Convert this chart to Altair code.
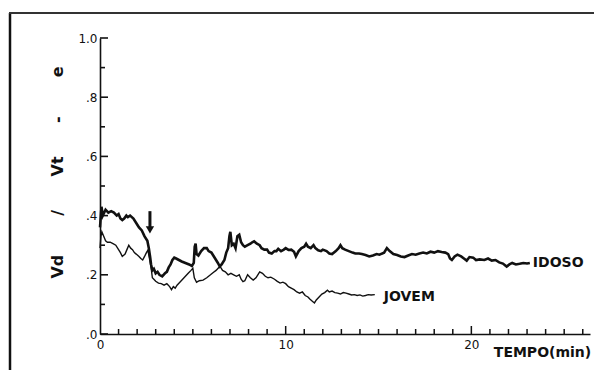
import altair as alt
import pandas as pd

# ---------------- data ----------------
idoso_t = [0.0, 0.08, 0.15, 0.3, 0.45, 0.6, 0.75, 0.9, 1.0, 1.1, 1.2, 1.3, 1.42, 1.5, 1.62, 1.8, 1.95,
           2.1, 2.25, 2.4, 2.55, 2.63, 2.7, 2.75, 2.82, 2.9, 3.0, 3.1, 3.2, 3.35, 3.5, 3.6, 3.7, 3.8,
           3.9, 4.0, 4.1, 4.25, 4.4, 4.6, 4.8, 4.95, 5.05, 5.1, 5.15, 5.2, 5.3, 5.45, 5.6, 5.75, 5.85,
           6.0, 6.1, 6.25, 6.35, 6.45, 6.55, 6.7, 6.8, 6.9, 6.97, 7.02, 7.1, 7.2, 7.3, 7.4, 7.5, 7.6,
           7.7, 7.8, 7.95, 8.1, 8.2, 8.3, 8.45, 8.6, 8.7, 8.85, 9.0, 9.1, 9.25, 9.4, 9.5, 9.6, 9.75,
           9.9, 10.0, 10.15, 10.3, 10.45, 10.55, 10.7, 10.85, 11.0, 11.1, 11.2, 11.35, 11.5, 11.6,
           11.75, 11.9, 12.0, 12.2, 12.35, 12.5, 12.7, 12.85, 12.95, 13.05, 13.2, 13.4, 13.6, 13.75,
           13.95, 14.1, 14.3, 14.5, 14.7, 14.9, 15.05, 15.3, 15.45, 15.6, 15.8, 16.0, 16.2, 16.4,
           16.6, 16.8, 17.0, 17.2, 17.4, 17.6, 17.8, 18.0, 18.2, 18.4, 18.6, 18.75, 18.85, 18.95,
           19.1, 19.25, 19.45, 19.6, 19.75, 19.9, 20.1, 20.25, 20.45, 20.7, 20.9, 21.1, 21.3, 21.5,
           21.7, 21.9, 22.05, 22.2, 22.4, 22.6, 22.8, 23.0, 23.15]
idoso_v = [0.36, 0.43, 0.40, 0.42, 0.41, 0.415, 0.41, 0.40, 0.405, 0.39, 0.385, 0.39, 0.40, 0.395,
           0.40, 0.39, 0.375, 0.36, 0.35, 0.33, 0.315, 0.29, 0.26, 0.235, 0.215, 0.22, 0.205, 0.21,
           0.20, 0.195, 0.205, 0.21, 0.225, 0.235, 0.25, 0.258, 0.255, 0.25, 0.245, 0.24, 0.235,
           0.23, 0.24, 0.295, 0.305, 0.27, 0.265, 0.28, 0.29, 0.29, 0.28, 0.275, 0.265, 0.25, 0.24,
           0.228, 0.235, 0.25, 0.275, 0.29, 0.33, 0.345, 0.30, 0.305, 0.29, 0.33, 0.335, 0.31, 0.30,
           0.295, 0.30, 0.305, 0.31, 0.313, 0.305, 0.30, 0.29, 0.285, 0.285, 0.275, 0.272, 0.28,
           0.28, 0.288, 0.28, 0.285, 0.29, 0.284, 0.285, 0.278, 0.262, 0.28, 0.29, 0.295, 0.305,
           0.295, 0.29, 0.30, 0.29, 0.283, 0.28, 0.285, 0.28, 0.272, 0.27, 0.28, 0.29, 0.30, 0.29,
           0.285, 0.28, 0.275, 0.272, 0.272, 0.27, 0.267, 0.262, 0.265, 0.27, 0.268, 0.275, 0.29,
           0.28, 0.27, 0.267, 0.262, 0.26, 0.265, 0.27, 0.268, 0.272, 0.275, 0.272, 0.278, 0.275,
           0.28, 0.277, 0.275, 0.27, 0.255, 0.25, 0.262, 0.268, 0.262, 0.255, 0.248, 0.26, 0.258,
           0.25, 0.252, 0.25, 0.255, 0.248, 0.25, 0.242, 0.238, 0.228, 0.235, 0.24, 0.235, 0.237,
           0.24, 0.238, 0.24]

jovem_t = [0.0, 0.05, 0.1, 0.2, 0.3, 0.4, 0.55, 0.7, 0.85, 1.0, 1.1, 1.2, 1.35, 1.45, 1.55, 1.65,
           1.75, 1.85, 1.95, 2.1, 2.2, 2.3, 2.4, 2.5, 2.58, 2.65, 2.75, 2.82, 2.9, 3.0, 3.15, 3.3,
           3.45, 3.6, 3.75, 3.85, 3.95, 4.05, 4.15, 4.3, 4.45, 4.6, 4.75, 4.9, 5.0, 5.08, 5.2, 5.35,
           5.55, 5.75, 5.95, 6.1, 6.25, 6.4, 6.5, 6.6, 6.75, 6.9, 7.05, 7.2, 7.35, 7.5, 7.6, 7.7,
           7.8, 7.95, 8.1, 8.25, 8.4, 8.5, 8.6, 8.75, 8.9, 9.05, 9.2, 9.4, 9.55, 9.7, 9.85, 10.0,
           10.15, 10.3, 10.45, 10.6, 10.75, 10.9, 11.05, 11.2, 11.3, 11.45, 11.55, 11.65, 11.8,
           11.95, 12.1, 12.25, 12.35, 12.5, 12.65, 12.8, 12.95, 13.1, 13.25, 13.4, 13.55, 13.7,
           13.85, 14.0, 14.15, 14.3, 14.45, 14.6, 14.8]
jovem_v = [0.29, 0.33, 0.345, 0.33, 0.315, 0.31, 0.31, 0.305, 0.30, 0.285, 0.275, 0.262, 0.27,
           0.285, 0.30, 0.29, 0.285, 0.275, 0.27, 0.262, 0.255, 0.25, 0.262, 0.275, 0.283, 0.26,
           0.225, 0.19, 0.185, 0.178, 0.172, 0.17, 0.165, 0.17, 0.16, 0.15, 0.16, 0.155, 0.165,
           0.175, 0.185, 0.195, 0.205, 0.215, 0.222, 0.19, 0.175, 0.18, 0.182, 0.19, 0.20, 0.208,
           0.215, 0.225, 0.225, 0.215, 0.21, 0.20, 0.205, 0.20, 0.195, 0.20, 0.185, 0.177, 0.18,
           0.20, 0.19, 0.182, 0.19, 0.20, 0.21, 0.205, 0.195, 0.19, 0.192, 0.185, 0.178, 0.172,
           0.175, 0.17, 0.16, 0.155, 0.15, 0.142, 0.138, 0.142, 0.13, 0.125, 0.118, 0.11, 0.105,
           0.115, 0.125, 0.135, 0.14, 0.148, 0.142, 0.145, 0.14, 0.138, 0.135, 0.14, 0.138, 0.135,
           0.132, 0.133, 0.13, 0.132, 0.128, 0.13, 0.133, 0.132, 0.133]

series_names = ["IDOSO", "JOVEM"]
x_label_values = [0, 10, 20]
x_minor_ticks = [1, 2, 3, 4, 5, 6, 7, 8, 9, 11, 12, 13, 14, 15, 16, 17, 18, 19, 21, 22, 23, 24, 25, 26]
x_major_ticks = [10, 20]
y_label_values = [0.0, 0.2, 0.4, 0.6, 0.8, 1.0]
y_label_texts = [".0", ".2", ".4", ".6", ".8", "1.0"]
y_minor_ticks = [0.1, 0.3, 0.5, 0.7, 0.9]
arrow_t = [2.69]
arrow_top = [0.415]
arrow_head = [0.352]

X_DOMAIN = [0, 26.39]
FONT = "DejaVu Sans"
TXT = "#111"
INK = "#111"
NB = "\u00a0"

idoso = pd.DataFrame({"t": idoso_t, "v": idoso_v})
jovem = pd.DataFrame({"t": jovem_t, "v": jovem_v})

xs = alt.Scale(domain=X_DOMAIN, nice=False, zero=False)
ys = alt.Scale(domain=[0, 1], nice=False)

label_expr = " : ".join(
    f"datum.value == {v} ? '{s}'" for v, s in zip(y_label_values, y_label_texts)
) + " : ''"

y_title = "Vd" + NB * 7 + "/" + NB * 6 + "Vt" + NB * 6 + "-" + NB * 7 + "e"

x_axis = alt.Axis(values=x_label_values, ticks=False, grid=False,
                  domainColor=INK, domainWidth=1.6, labelFont=FONT, labelFontSize=12,
                  labelColor=TXT, labelPadding=5, labelFlush=False,
                  title="TEMPO(min)", titleFont="DejaVu Sans", titleFontSize=14,
                  titleFontWeight="bold", titleColor=TXT, titleX=442, titleY=18,
                  titleAlign="center", titleBaseline="middle")
y_axis = alt.Axis(values=y_label_values, labelExpr=label_expr, ticks=False,
                  grid=False, domainColor=INK, domainWidth=1.6, labelFont=FONT,
                  labelFontSize=12, labelColor=TXT, labelPadding=3,
                  title=y_title,
                  titleFont="DejaVu Sans", titleFontSize=16, titleFontWeight="bold",
                  titleColor=TXT, titleAngle=270, titleX=-43, titleY=134,
                  titleAlign="center", titleBaseline="middle")

line_idoso = alt.Chart(idoso).mark_line(color=INK, strokeWidth=2.6).encode(
    x=alt.X("t:Q", scale=xs, axis=x_axis), y=alt.Y("v:Q", scale=ys, axis=y_axis))
line_jovem = alt.Chart(jovem).mark_line(color=INK, strokeWidth=1.4).encode(
    x=alt.X("t:Q", scale=xs, axis=x_axis), y=alt.Y("v:Q", scale=ys, axis=y_axis))

ends = pd.DataFrame({
    "t": [idoso_t[-1], jovem_t[-1]],
    "v": [idoso_v[-1], jovem_v[-1]],
    "name": series_names,
})
lab_idoso = alt.Chart(ends.iloc[[0]]).mark_text(
    align="left", baseline="middle", dx=3, dy=0, font="DejaVu Sans", fontSize=14,
    fontWeight="bold", color=TXT).encode(
    x=alt.X("t:Q", scale=xs), y=alt.Y("v:Q", scale=ys), text="name:N")
lab_jovem = alt.Chart(ends.iloc[[1]]).mark_text(
    align="left", baseline="middle", dx=9, dy=2, font="DejaVu Sans", fontSize=14,
    fontWeight="bold", color=TXT).encode(
    x=alt.X("t:Q", scale=xs), y=alt.Y("v:Q", scale=ys), text="name:N")

# inward ticks, placed through the chart's scales
ymaj = alt.Chart(pd.DataFrame({"v": y_label_values})).mark_tick(
    orient="horizontal", color=INK, size=8, thickness=1.6, opacity=1).encode(
    y=alt.Y("v:Q", scale=ys), x=alt.value(4))
ymin = alt.Chart(pd.DataFrame({"v": y_minor_ticks})).mark_tick(
    orient="horizontal", color=INK, size=5, thickness=1.6, opacity=1).encode(
    y=alt.Y("v:Q", scale=ys), x=alt.value(2.5))
xmin = alt.Chart(pd.DataFrame({"t": x_minor_ticks})).mark_tick(
    orient="vertical", color=INK, size=5, thickness=1.5, opacity=1).encode(
    x=alt.X("t:Q", scale=xs), y=alt.value(293.5))
xmaj = alt.Chart(pd.DataFrame({"t": x_major_ticks})).mark_tick(
    orient="vertical", color=INK, size=8, thickness=1.5, opacity=1).encode(
    x=alt.X("t:Q", scale=xs), y=alt.value(292))

arr = pd.DataFrame({"t": arrow_t, "top": arrow_top, "head": arrow_head})
arrow_shaft = alt.Chart(arr).mark_rule(color=INK, strokeWidth=3).encode(
    x=alt.X("t:Q", scale=xs), y=alt.Y("top:Q", scale=ys), y2="head:Q")
arrow_tip = alt.Chart(arr).mark_point(shape="triangle-down", filled=True, color=INK,
                                      size=70, opacity=1).encode(
    x=alt.X("t:Q", scale=xs), y=alt.Y("head:Q", scale=ys))

one = pd.DataFrame({"a": [0]})
frame_left = alt.Chart(one).mark_rule(color=INK, strokeWidth=2.5).encode(
    x=alt.value(-90), y=alt.value(-25), y2=alt.value(340))
frame_top = alt.Chart(one).mark_rule(color="#333", strokeWidth=2).encode(
    y=alt.value(-25), x=alt.value(-91), x2=alt.value(494))

chart = alt.layer(
    line_idoso, line_jovem, frame_left, frame_top,
    arrow_shaft, arrow_tip, lab_idoso, lab_jovem, ymaj, ymin, xmin, xmaj,
).properties(
    width=490, height=296,
    autosize=alt.AutoSizeParams(type="none"),
    padding={"left": 92, "top": 30, "right": 4, "bottom": 36},
    background="white",
).configure_view(stroke=None)

chart.save("out.html", embed_options={"renderer": "svg", "actions": False})
